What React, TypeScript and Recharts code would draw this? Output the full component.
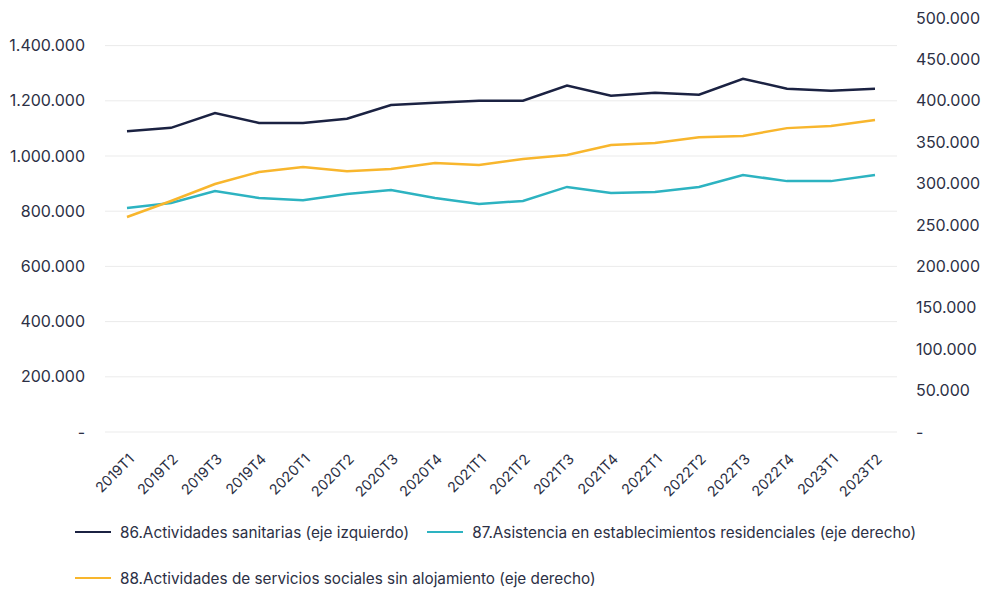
import React from 'react';
import { LineChart, Line, XAxis, YAxis, CartesianGrid, Legend } from 'recharts';

const categories = ['2019T1','2019T2','2019T3','2019T4','2020T1','2020T2','2020T3','2020T4','2021T1','2021T2','2021T3','2021T4','2022T1','2022T2','2022T3','2022T4','2023T1','2023T2'];
const sanitarias = [1090000,1102000,1156000,1120000,1120000,1135000,1185000,1193000,1200000,1200000,1255000,1218000,1229000,1222000,1280000,1244000,1236000,1244000];
const residenciales = [270500,276600,291000,282600,280000,287400,292300,282600,275400,279000,296000,288600,290000,296000,310400,303000,303000,310400];
const sociales = [259700,279000,299500,314000,320000,315000,317600,325000,322500,329700,334500,346600,349000,356000,357500,367000,369600,376800];

const leftTicks = [0,200000,400000,600000,800000,1000000,1200000,1400000];
const rightTicks = [0,50000,100000,150000,200000,250000,300000,350000,400000,450000,500000];
const leftMax = 1500000;
const rightMax = 500000;

const seriesNames = [
  '86.Actividades sanitarias (eje izquierdo)',
  '87.Asistencia en establecimientos residenciales (eje derecho)',
  '88.Actividades de servicios sociales sin alojamiento (eje derecho)',
];
const colors = ['#1b2242', '#2db3c1', '#f8b62d'];

const data = categories.map((c, i) => ({
  cat: c,
  s86: sanitarias[i],
  s87: residenciales[i],
  s88: sociales[i],
}));

const FONT = 'Inter, "Noto Sans", sans-serif';
const TEXT = '#2c3045';

const fmt = (v: number) => (v === 0 ? '-' : String(v).replace(/\B(?=(\d{3})+(?!\d))/g, '.'));

const XTick = (props: any) => {
  const { x, y, payload } = props;
  const px = x + 8;
  const py = y + 20;
  return (
    <text
      x={px}
      y={py}
      transform={`rotate(-45 ${px} ${py})`}
      textAnchor="end"
      fontSize={14.3}
      fontFamily={FONT}
      fill={TEXT}
    >
      {payload.value}
    </text>
  );
};

const LegendContent = (props: any) => {
  const { payload } = props;
  return (
    <div
      style={{
        height: 80,
        boxSizing: 'border-box',
        paddingTop: 10,
        paddingLeft: 75,
        display: 'flex',
        flexWrap: 'wrap',
        columnGap: 18,
        rowGap: 22,
        width: 983,
        fontFamily: FONT,
        fontSize: 15.3,
        color: TEXT,
      }}
    >
      {(payload || []).map((p: any) => (
        <div key={p.value} style={{ display: 'flex', alignItems: 'center', height: 24, whiteSpace: 'nowrap' }}>
          <span style={{ display: 'inline-block', width: 36, height: 2.5, background: p.color, marginRight: 9 }} />
          <span>{p.value}</span>
        </div>
      ))}
    </div>
  );
};

const gridGen = (args: any) => {
  const off = args && args.offset;
  if (!off) return [];
  return leftTicks.map((t) => off.top + off.height * (1 - t / leftMax));
};

export default function App() {
  return (
    <div style={{ position: 'absolute', left: 0, top: 0, background: '#fff' }}>
      <LineChart width={983} height={590} data={data} margin={{ top: 18, right: 0, bottom: 0, left: 0 }}>
        <CartesianGrid
          yAxisId="left"
          vertical={false}
          stroke="#ebebeb"
          strokeWidth={1}
          horizontalCoordinatesGenerator={gridGen}
        />
        <XAxis
          dataKey="cat"
          axisLine={false}
          tickLine={false}
          interval={0}
          height={78}
          padding={{ left: 22, right: 22 }}
          tick={<XTick />}
        />
        <YAxis
          yAxisId="left"
          orientation="left"
          width={105}
          domain={[0, leftMax]}
          ticks={leftTicks}
          tickFormatter={fmt}
          axisLine={false}
          tickLine={false}
          tickSize={0}
          tickMargin={20}
          tick={{ fontSize: 16, fontFamily: FONT, fill: TEXT }}
        />
        <YAxis
          yAxisId="right"
          orientation="right"
          width={86}
          domain={[0, rightMax]}
          ticks={rightTicks}
          tickFormatter={fmt}
          axisLine={false}
          tickLine={false}
          tickSize={0}
          tickMargin={19}
          tick={{ fontSize: 16, fontFamily: FONT, fill: TEXT, textAnchor: 'start' }}
        />
        <Legend verticalAlign="bottom" align="left" content={<LegendContent />} wrapperStyle={{ left: 0, bottom: 0 }} />
        <Line yAxisId="left" type="linear" dataKey="s86" name={seriesNames[0]} stroke={colors[0]} strokeWidth={2.5} dot={false} isAnimationActive={false} />
        <Line yAxisId="right" type="linear" dataKey="s87" name={seriesNames[1]} stroke={colors[1]} strokeWidth={2.5} dot={false} isAnimationActive={false} />
        <Line yAxisId="right" type="linear" dataKey="s88" name={seriesNames[2]} stroke={colors[2]} strokeWidth={2.5} dot={false} isAnimationActive={false} />
      </LineChart>
    </div>
  );
}
